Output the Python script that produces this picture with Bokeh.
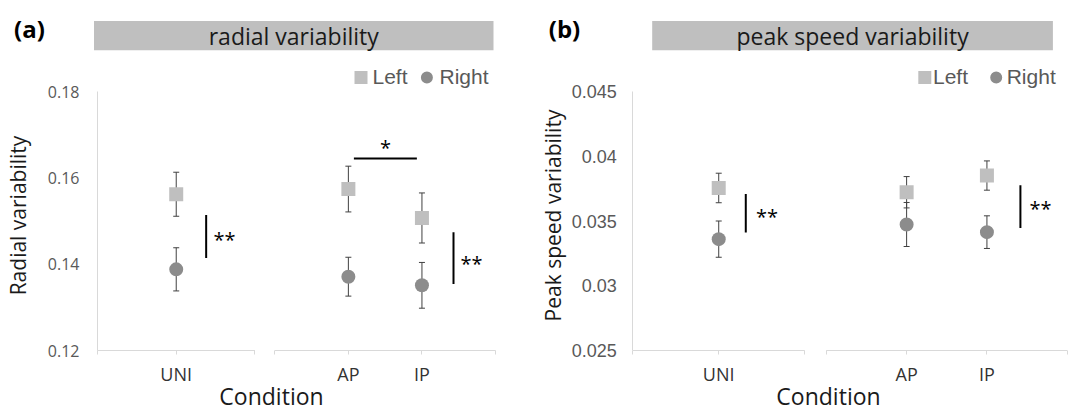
import math
from bokeh.plotting import figure
from bokeh.layouts import row
from bokeh.models import (Range1d, FixedTicker, NumeralTickFormatter, Whisker,
                          TeeHead, ColumnDataSource)
from bokeh.core.properties import value
from bokeh.embed import file_html
from bokeh.resources import INLINE

# ---------------- data ----------------
conditions = ["UNI", "AP", "IP"]

radial_left = [0.1562, 0.1574, 0.1507]
radial_left_err = [0.0051, 0.0053, 0.0058]
radial_right = [0.1388, 0.1371, 0.1351]
radial_right_err = [0.0050, 0.0045, 0.0053]
radial_ticks = [0.12, 0.14, 0.16, 0.18]

speed_left = [0.03755, 0.03722, 0.03851]
speed_left_err = [0.00114, 0.00121, 0.00113]
speed_right = [0.03360, 0.03473, 0.03414]
speed_right_err = [0.00140, 0.00170, 0.00126]
speed_ticks = [0.025, 0.030, 0.035, 0.040, 0.045]

# significance marks (x in axis units, y in data units)
radial_sig_v = {"x": [1.477, 4.839], "y0": [0.1514, 0.1474], "y1": [0.1414, 0.1354]}
radial_sig_h = {"x0": [3.485], "x1": [4.341], "y": [0.1645]}
radial_sig_dbl = {"x": [1.577, 4.934], "y": [0.1461, 0.1407]}
radial_sig_single = {"x": [3.915], "y": [0.1674]}

speed_sig_v = {"x": [1.407, 4.827], "y0": [0.03709, 0.03776], "y1": [0.03411, 0.03445]}
speed_sig_h = {"x0": [], "x1": [], "y": []}
speed_sig_dbl = {"x": [1.533, 4.941], "y": [0.03551, 0.03612]}
speed_sig_single = {"x": [], "y": []}

# ---------------- layout constants ----------------
CAT_X = [1.07, 3.41, 4.41]
SEG = [(0.0, 2.14), (2.41, 5.41)]
W, H = 537, 412
BASE_PX = 350      # screen y of the lowest y tick
TOPTICK_PX = 91    # screen y of the highest y tick

SQ_COLOR = "#bfbfbf"
CI_COLOR = "#8c8c8c"
ERR_COLOR = "#404040"
AX_COLOR = "#d9d9d9"
TXT = "#1a1a1a"


def build(tag, title, ytitle, left, left_err, right, right_err, yticks, fmt,
          sig_v, sig_h, sig_dbl, sig_single, axis_px, unit_px, tick_font,
          tick_size, tick_standoff, band_px, legend_px, tag_px, ytitle_px,
          xtitle_px):
    ymin, ymax = yticks[0], yticks[-1]
    s = (BASE_PX - TOPTICK_PX) / (ymax - ymin)

    def px2x(cx):
        return (cx - axis_px) / unit_px

    def px2y(cy):
        return ymin + (BASE_PX - cy) / s

    p = figure(width=W, height=H, x_range=Range1d(px2x(0), px2x(W)),
               y_range=Range1d(px2y(H), px2y(0)),
               output_backend="svg", toolbar_location=None,
               min_border_left=0, min_border_right=0,
               min_border_top=0, min_border_bottom=0)
    p.outline_line_color = None
    p.grid.visible = False
    p.background_fill_color = "white"
    p.border_fill_color = "white"

    # y axis (placed at x = 0 inside the frame)
    ya = p.yaxis[0]
    ya.fixed_location = 0
    ya.ticker = FixedTicker(ticks=yticks)
    ya.formatter = NumeralTickFormatter(format=fmt)
    ya.bounds = (ymin, ymax)
    ya.axis_line_color = AX_COLOR
    ya.major_tick_out = 0
    ya.major_tick_in = 0
    ya.minor_tick_out = 0
    ya.minor_tick_in = 0
    ya.major_label_text_font = tick_font
    ya.major_label_text_font_size = tick_size
    ya.major_label_text_color = "#595959"
    ya.major_label_standoff = tick_standoff

    # x axis (placed at the lowest y tick)
    xa = p.xaxis[0]
    xa.fixed_location = ymin
    xa.ticker = FixedTicker(ticks=CAT_X, minor_ticks=[0.0, 2.14, 2.41, 5.41])
    xa.major_label_overrides = {x: c for x, c in zip(CAT_X, conditions)}
    xa.axis_line_color = None
    xa.major_tick_line_color = AX_COLOR
    xa.major_tick_out = 4
    xa.major_tick_in = 0
    xa.minor_tick_line_color = AX_COLOR
    xa.minor_tick_out = 4
    xa.minor_tick_in = 0
    xa.major_label_text_font = "Open Sans"
    xa.major_label_text_font_size = "18px"
    xa.major_label_text_color = "#333333"
    xa.major_label_standoff = 7

    # broken baseline
    p.segment(x0=[a for a, b in SEG], x1=[b for a, b in SEG],
              y0=[ymin] * len(SEG), y1=[ymin] * len(SEG),
              line_color=AX_COLOR, line_width=1)

    # title band
    bl, br, bt, bb, bbase = band_px
    p.quad(left=[px2x(bl)], right=[px2x(br)], top=[px2y(bt)], bottom=[px2y(bb)],
           fill_color="#bfbfbf", line_color=None)
    p.text(x=[px2x((bl + br) / 2)], y=[px2y(bbase)], text=[title],
           text_font=value("Open Sans"), text_font_size="23px",
           text_color=TXT, text_align="center", text_baseline="alphabetic")

    # legend
    sqx, ltx, cix, rtx, ly, lbase = legend_px
    p.scatter(x=[px2x(sqx)], y=[px2y(ly)], marker="square", size=13,
              fill_color=SQ_COLOR, line_color=None)
    p.scatter(x=[px2x(cix)], y=[px2y(ly)], marker="circle", size=12,
              fill_color=CI_COLOR, line_color=None)
    p.text(x=[px2x(ltx), px2x(rtx)], y=[px2y(lbase)] * 2, text=["Left", "Right"],
           text_font=value("Liberation Sans"), text_font_size="21px",
           text_color="#595959", text_align="left", text_baseline="alphabetic")

    # error bars
    for vals, errs in ((left, left_err), (right, right_err)):
        src = ColumnDataSource(dict(base=CAT_X,
                                    upper=[v + e for v, e in zip(vals, errs)],
                                    lower=[v - e for v, e in zip(vals, errs)]))
        w = Whisker(base="base", upper="upper", lower="lower", source=src,
                    line_color=ERR_COLOR, line_width=1,
                    upper_head=TeeHead(size=6, line_color=ERR_COLOR, line_width=1),
                    lower_head=TeeHead(size=6, line_color=ERR_COLOR, line_width=1),
                    level="underlay")
        p.add_layout(w)

    # markers
    p.scatter(x=CAT_X, y=left, marker="square", size=14, fill_color=SQ_COLOR,
              line_color=None)
    p.scatter(x=CAT_X, y=right, marker="circle", size=14, fill_color=CI_COLOR,
              line_color=None)

    # significance
    if sig_v["x"]:
        p.segment(x0=sig_v["x"], x1=sig_v["x"], y0=sig_v["y0"], y1=sig_v["y1"],
                  line_color="black", line_width=2)
    if sig_h["x0"]:
        p.segment(x0=sig_h["x0"], x1=sig_h["x1"], y0=sig_h["y"], y1=sig_h["y"],
                  line_color="black", line_width=2)
    if sig_dbl["x"]:
        p.text(x=sig_dbl["x"], y=sig_dbl["y"], text=["**"] * len(sig_dbl["x"]),
               text_font=value("Open Sans"), text_font_size="20px",
               text_color="black", text_align="left",
               text_baseline="alphabetic", y_offset=2)
    if sig_single["x"]:
        p.text(x=sig_single["x"], y=sig_single["y"], text=["*"] * len(sig_single["x"]),
               text_font=value("Open Sans"), text_font_size="20px",
               text_color="black", text_align="center",
               text_baseline="alphabetic", y_offset=2)

    # panel tag, axis titles
    tx, ty = tag_px
    p.text(x=[px2x(tx)], y=[px2y(ty)], text=[tag], text_font=value("Open Sans"),
           text_font_style="bold", text_font_size="24px", text_color="black",
           text_align="center", text_baseline="middle")
    yx, yy = ytitle_px
    p.text(x=[px2x(yx)], y=[px2y(yy)], text=[ytitle], text_font=value("Open Sans"),
           text_font_size="21px", text_color=TXT, text_align="center",
           text_baseline="alphabetic", angle=math.pi / 2)
    cx, cy = xtitle_px
    p.text(x=[px2x(cx)], y=[px2y(cy)], text=["Condition"],
           text_font=value("Open Sans"), text_font_size="23px", text_color=TXT,
           text_align="center", text_baseline="alphabetic")
    return p


p1 = build("(a)", "radial variability", "Radial variability",
           radial_left, radial_left_err, radial_right, radial_right_err,
           radial_ticks, "0.[00]",
           radial_sig_v, radial_sig_h, radial_sig_dbl, radial_sig_single,
           axis_px=97, unit_px=73.57, tick_font="Open Sans", tick_size="16px",
           tick_standoff=18,
           band_px=(93.5, 493, 20.5, 49.7, 35),
           legend_px=(360.5, 372, 426.4, 439, 77, 76),
           tag_px=(29, 28), ytitle_px=(17, 215), xtitle_px=(271, 395))

p2 = build("(b)", "peak speed variability", "Peak speed variability",
           speed_left, speed_left_err, speed_right, speed_right_err,
           speed_ticks, "0.[000]",
           speed_sig_v, speed_sig_h, speed_sig_dbl, speed_sig_single,
           axis_px=95.3, unit_px=80.3, tick_font="Liberation Sans", tick_size="18px",
           tick_standoff=16,
           band_px=(114.7, 515.4, 20.5, 49.7, 35),
           legend_px=(387.3, 395.5, 458.7, 469.2, 77, 76),
           tag_px=(27, 28), ytitle_px=(15, 215), xtitle_px=(291, 395))

layout = row(p1, p2)
open("out.html", "w").write(file_html(layout, INLINE))
